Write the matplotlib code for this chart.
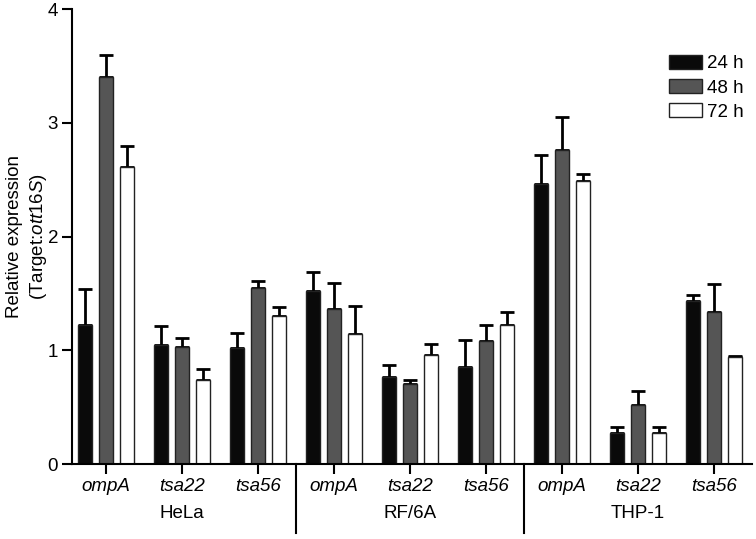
import numpy as np
import matplotlib.pyplot as plt
import matplotlib.patches as mpatches

plt.rcParams['font.family'] = ['Liberation Sans', 'DejaVu Sans']
plt.rcParams['mathtext.fontset'] = 'custom'
plt.rcParams['mathtext.rm'] = 'Liberation Sans'
plt.rcParams['mathtext.it'] = 'Liberation Sans:italic'

genes = ["ompA", "tsa22", "tsa56"] * 3
cells = ["HeLa", "RF/6A", "THP-1"]
series = ["24 h", "48 h", "72 h"]

v24 = [1.22, 1.05, 1.02, 1.52, 0.77, 0.85, 2.46, 0.27, 1.43]
e24 = [0.32, 0.16, 0.13, 0.17, 0.10, 0.24, 0.26, 0.06, 0.06]
v48 = [3.40, 1.03, 1.55, 1.36, 0.70, 1.08, 2.76, 0.52, 1.34]
e48 = [0.20, 0.08, 0.06, 0.23, 0.04, 0.14, 0.29, 0.12, 0.24]
v72 = [2.61, 0.74, 1.30, 1.14, 0.96, 1.22, 2.49, 0.27, 0.94]
e72 = [0.19, 0.10, 0.08, 0.25, 0.10, 0.12, 0.06, 0.06, 0.01]

colors = ["#0a0a0a", "#555555", "#ffffff"]
fs = 13.5

fig = plt.figure(figsize=(7.56, 5.39), dpi=100)
ax = fig.add_axes([0.0952, 0.139, 0.8995, 0.844])

x = np.arange(len(genes))
w = 0.19
off = 0.275
for i, (vals, errs) in enumerate([(v24, e24), (v48, e48), (v72, e72)]):
    xs = x + (i - 1) * off
    ax.bar(xs, vals, width=w, color=colors[i], edgecolor="#222222",
           linewidth=1, zorder=2, label=series[i])
    ax.errorbar(xs, vals, yerr=[np.zeros(len(vals)), errs], fmt="none",
                ecolor="black", elinewidth=2, capsize=5, capthick=2, zorder=1)

ax.set_xlim(-0.45, 8.5)
ax.set_ylim(0, 4)
ax.set_yticks([0, 1, 2, 3, 4])
ax.set_xticks(x)
ax.set_xticklabels(genes, fontstyle="italic")
ax.tick_params(axis="both", labelsize=fs, length=7, width=1.5, direction="out", pad=3)
for s in ["top", "right"]:
    ax.spines[s].set_visible(False)
for s in ["left", "bottom"]:
    ax.spines[s].set_linewidth(1.5)

ax.set_ylabel("Relative expression\n(Target:$\\it{ott16S}$)", fontsize=fs, linespacing=1.3)
ax.yaxis.set_label_coords(-0.034, 0.5)

# group labels and separators below the axis
for j, name in enumerate(cells):
    ax.text(3 * j + 1, -0.108, name, transform=ax.get_xaxis_transform(),
            ha="center", va="center", fontsize=fs)
for sep in [2.5, 5.5]:
    ax.axvline(sep, ymin=-0.152, ymax=0, color="black", linewidth=1.5, clip_on=False)

handles = [mpatches.Patch(facecolor=c, edgecolor="#222222", linewidth=1) for c in colors]
ax.legend(handles, series, loc="upper left", bbox_to_anchor=(0.878, 0.90), frameon=False,
          fontsize=fs, handlelength=1.75, handleheight=0.8, handletextpad=0.25,
          labelspacing=0.35, borderaxespad=0, borderpad=0)

fig.savefig("out.png", dpi=100)
